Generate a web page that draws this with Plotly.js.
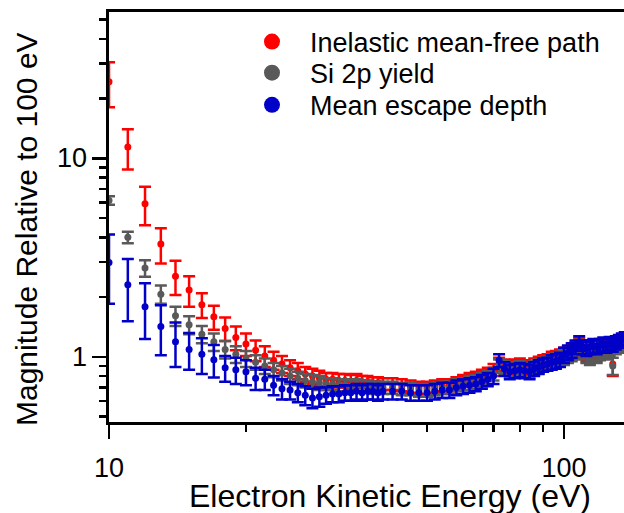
<!DOCTYPE html>
<html>
<head>
<meta charset="utf-8">
<script src="https://cdn.plot.ly/plotly-3.0.1.min.js"></script>
<style>html,body{margin:0;padding:0;background:#fff;}#chart{width:624px;height:513px;}</style>
</head>
<body>
<div id="chart"></div>
<script>
// Electron kinetic energy (eV)
const energy = [10,11,12,13,14,15,16,17,18,19,20,21,22,23,24,25,26,27,28,29,30,31,32,33,34,35,36,37,38,39,40,
  42,44,46,48,50,52,54,56,58,60,62,64,66,68,70,72,74,76,78,80,82,84,86,88,90,92,94,96,98,100,
  102,104,106,108,110,112,114,116,118,120,122,124,126,128,130,132,134,136];

// Inelastic mean-free path (relative to 100 eV)
const imfp = [24.3,11.4,5.9,3.7,2.55,2.17,1.83,1.59,1.39,1.25,1.16,1.08,1.01,0.96,0.92,
  0.88,0.85,0.82,0.80,0.78,0.77,0.77,0.76,0.76,0.75,0.76,0.75,0.75,0.74,0.74,0.73,
  0.73,0.72,0.71,0.70,0.70,0.71,0.72,0.72,0.74,0.76,0.77,0.78,0.80,0.82,0.86,0.92,0.90,0.88,0.90,0.91,
  0.89,0.88,0.91,0.93,0.95,0.96,0.98,0.99,1.01,1.02,1.04,1.06,1.10,1.14,1.08,1.04,1.02,1.06,1.04,1.07,
  1.10,1.08,1.12,0.92,1.14,1.16,1.18,1.20];
const imfpErr = [6.2,2.6,1.3,0.75,0.5,0.38,0.26,0.22,0.19,0.17,0.15,0.13,0.12,0.10,0.09,
  0.08,0.08,0.07,0.07,0.07,0.06,0.06,0.06,0.06,0.06,0.06,0.05,0.05,0.05,0.05,0.05,
  0.05,0.05,0.05,0.05,0.05,0.05,0.05,0.05,0.05,0.05,0.06,0.06,0.06,0.06,0.06,0.07,0.07,0.07,0.07,0.07,
  0.07,0.07,0.07,0.07,0.07,0.07,0.08,0.08,0.08,0.09,0.09,0.09,0.09,0.10,0.09,0.09,0.09,0.09,0.09,0.09,
  0.09,0.09,0.09,0.12,0.09,0.09,0.09,0.09];

// Si 2p yield (relative to 100 eV)
const si2p = [6.14,4.0,2.8,2.07,1.61,1.45,1.30,1.19,1.09,1.03,0.98,0.94,0.90,0.86,0.83,
  0.80,0.78,0.76,0.75,0.74,0.73,0.73,0.72,0.72,0.71,0.72,0.71,0.71,0.70,0.70,0.70,
  0.70,0.69,0.69,0.68,0.68,0.69,0.70,0.70,0.72,0.73,0.74,0.75,0.77,0.79,0.82,0.90,0.88,0.86,0.87,0.88,
  0.86,0.85,0.88,0.90,0.92,0.93,0.95,0.96,0.98,1.00,1.02,1.04,1.08,1.12,1.06,1.02,1.00,1.04,1.02,1.05,
  1.08,1.06,1.10,0.90,1.12,1.14,1.16,1.18];
const si2pErr = [0.3,0.27,0.27,0.22,0.18,0.15,0.13,0.12,0.11,0.10,0.09,0.08,0.08,0.07,0.07,
  0.07,0.06,0.06,0.06,0.06,0.05,0.05,0.05,0.05,0.05,0.05,0.05,0.05,0.05,0.05,0.05,
  0.05,0.05,0.05,0.05,0.05,0.05,0.05,0.05,0.05,0.05,0.06,0.06,0.06,0.06,0.06,0.07,0.07,0.07,0.07,0.07,
  0.07,0.07,0.07,0.07,0.07,0.07,0.08,0.08,0.08,0.09,0.09,0.09,0.09,0.10,0.09,0.09,0.09,0.09,0.09,0.09,
  0.09,0.09,0.09,0.09,0.09,0.09,0.09,0.09];

// Mean escape depth (relative to 100 eV)
const escape = [2.99,2.31,1.79,1.42,1.19,1.09,1.03,0.966,0.88,0.86,0.84,0.78,0.77,0.72,0.69,
  0.68,0.66,0.64,0.62,0.63,0.64,0.65,0.65,0.66,0.66,0.67,0.66,0.67,0.67,0.66,0.67,
  0.67,0.67,0.66,0.66,0.66,0.67,0.68,0.68,0.70,0.71,0.72,0.73,0.75,0.77,0.80,0.96,0.87,0.84,0.85,0.86,
  0.85,0.84,0.87,0.89,0.91,0.92,0.94,0.95,0.97,1.02,1.05,1.08,1.12,1.17,1.12,1.10,1.12,1.14,1.12,1.14,
  1.16,1.14,1.17,1.15,1.18,1.20,1.22,1.24];
const escapeErr = [1.14,0.8,0.56,0.4,0.3,0.23,0.21,0.18,0.13,0.13,0.12,0.10,0.09,0.08,0.08,
  0.07,0.07,0.07,0.07,0.07,0.06,0.06,0.06,0.06,0.06,0.06,0.06,0.06,0.06,0.06,0.06,
  0.06,0.06,0.06,0.06,0.06,0.06,0.06,0.06,0.06,0.06,0.06,0.06,0.06,0.06,0.07,0.07,0.07,0.07,0.07,0.07,
  0.07,0.07,0.07,0.07,0.07,0.07,0.08,0.08,0.08,0.09,0.09,0.09,0.09,0.10,0.09,0.09,0.09,0.09,0.09,0.09,
  0.09,0.09,0.09,0.09,0.09,0.09,0.09,0.09];

const seriesNames = ['Inelastic mean-free path', 'Si 2p yield', 'Mean escape depth'];
const seriesColors = ['#ff0000', '#595959', '#0000c8'];
const seriesValues = [imfp, si2p, escape];
const seriesErrors = [imfpErr, si2pErr, escapeErr];

const yTickVals = [1, 10];
const yTickText = ['1', '10'];

const FONT = '"Liberation Sans", Arial, sans-serif';
const traces = [];
for (let i = 0; i < 3; i++) {
  traces.push({
    type: 'scatter', mode: 'markers', x: energy, y: seriesValues[i],
    showlegend: false, cliponaxis: true,
    marker: {color: seriesColors[i], size: 7},
    error_y: {type: 'data', array: seriesErrors[i], visible: true, color: seriesColors[i], thickness: 2.5, width: 6}
  });
}
const legendKeys = ['legend', 'legend2', 'legend3'];
for (let i = 0; i < 3; i++) {
  traces.push({
    type: 'scatter', mode: 'markers', x: [null], y: [null], name: seriesNames[i],
    legend: legendKeys[i], showlegend: true,
    marker: {color: seriesColors[i], size: 16}
  });
}

const legendY = [0.9267, 0.8509, 0.7726];
function legendCfg(y) {
  return {x: 0.2427, xanchor: 'left', y: y, yanchor: 'middle', bgcolor: 'rgba(0,0,0,0)',
    borderwidth: 0, itemwidth: 66, font: {family: FONT, size: 27, color: '#000'}};
}

const annotations = [
  {text: 'Electron Kinetic Energy (eV)', xref: 'paper', yref: 'paper',
    x: (390 - 109) / 515, y: -(496 - 422) / 410, xanchor: 'center', yanchor: 'middle',
    showarrow: false, font: {family: FONT, size: 32, color: '#000'}},
  {text: 'Magnitude Relative to 100 eV', xref: 'paper', yref: 'paper',
    x: (26 - 109) / 515, y: (422 - 229) / 410, xanchor: 'center', yanchor: 'middle',
    textangle: -90, showarrow: false, font: {family: FONT, size: 30, color: '#000'}}
];
// y tick labels placed at the axis values (log axis: annotation y in log10 units)
for (let i = 0; i < yTickVals.length; i++) {
  annotations.push({text: yTickText[i], xref: 'paper', yref: 'y',
    x: (89 - 109) / 515, y: Math.log10(yTickVals[i]), xanchor: 'right', yanchor: 'middle',
    showarrow: false, font: {family: FONT, size: 27, color: '#000'}});
}

const layout = {
  width: 624, height: 513,
  margin: {l: 109, r: 0, t: 12, b: 91},
  paper_bgcolor: '#fff', plot_bgcolor: '#fff',
  font: {family: FONT, color: '#000'},
  showlegend: true,
  legend: legendCfg(legendY[0]),
  legend2: legendCfg(legendY[1]),
  legend3: legendCfg(legendY[2]),
  xaxis: {
    type: 'log', range: [1, 2.1319], showgrid: false, zeroline: false,
    showline: true, linecolor: '#000', linewidth: 3, mirror: true,
    ticks: 'outside', ticklen: 14, tickwidth: 2.5, tickcolor: '#000',
    tickvals: [10, 100], ticktext: ['10', '100'],
    tickfont: {family: FONT, size: 27, color: '#000'}, ticklabelstandoff: 6,
    minor: {ticks: 'outside', ticklen: 7, tickwidth: 2.5, tickcolor: '#000',
      tickvals: [20,30,40,50,60,70,80,90], showgrid: false}
  },
  yaxis: {
    type: 'log', range: [-0.3283, 1.7374], showgrid: false, zeroline: false,
    showline: true, linecolor: '#000', linewidth: 3, mirror: false,
    ticks: 'outside', ticklen: 14, tickwidth: 2.5, tickcolor: '#000',
    tickvals: yTickVals, showticklabels: false,
    minor: {ticks: 'outside', ticklen: 7, tickwidth: 2.5, tickcolor: '#000',
      tickvals: [0.5,0.6,0.7,0.8,0.9,2,3,4,5,6,7,8,9,20,30,40,50], showgrid: false}
  },
  annotations: annotations
};

Plotly.newPlot('chart', traces, layout, {displayModeBar: false, staticPlot: true});
</script>
</body>
</html>
